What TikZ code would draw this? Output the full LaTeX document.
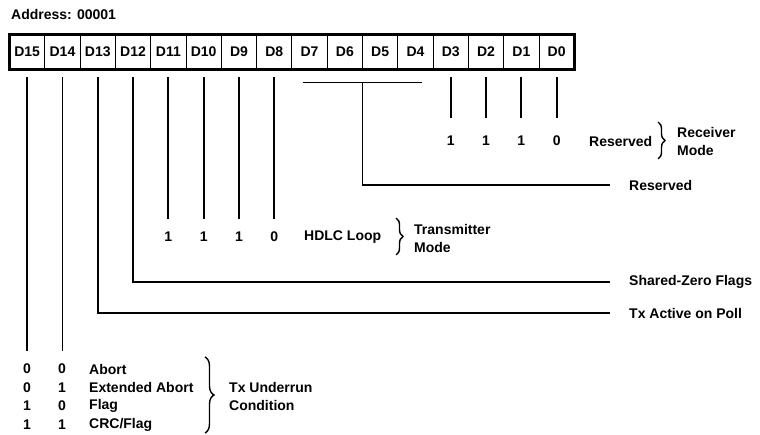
\documentclass[tikz,border=0pt]{standalone}
\usepackage{fontspec}
\setmainfont{Liberation Sans}
\usetikzlibrary{calc,decorations.pathreplacing}
\tikzset{
    cell/.style     = {rectangle, draw=black, line width=0.9pt, minimum width=35.3pt,
                       minimum height=35pt, inner sep=0pt, outer sep=0pt},
    regframe/.style = {draw=black, line width=2.4pt},
    tap/.style      = {draw=black, line width=1.8pt},
    txt/.style      = {font=\bfseries\fontsize{14}{18}\selectfont, inner sep=1pt},
    brc/.style      = {draw=black, line width=1.4pt, decorate, decoration={brace, amplitude=#1}},
    brc/.default    = 7pt
}
\begin{document}
\begin{tikzpicture}[x=1pt, y=-1pt, every node/.style={txt}]
    \useasboundingbox (0,0) rectangle (760,435);

    % --- Register ---
    \node[anchor=west] (addr) at (10,15) {Address: 00001};
    \foreach \b [count=\k from 0] in {15,14,...,0}
        \node[cell] (d\b) at ({27.15+35.3*\k}, 52) {D\b};
    \draw[regframe] (d15.north west) rectangle (d0.south east);

    % --- Right-hand labels ---
    \node[anchor=west] (rsvd)   at (628,185) {Reserved};
    \node[anchor=west] (shzero) at (628,282) {Shared-Zero Flags};
    \node[anchor=west] (txpoll) at (628,313) {Tx Active on Poll};

    % --- Receiver Mode (D3-D0) ---
    \node[anchor=west] (rxrsvd) at (588,141) {Reserved};
    \foreach \b/\v in {3/1,2/1,1/1,0/0}
        \node (rx\b) at (d\b |- rxrsvd) {\v};
    \draw[brc] (658,122) -- (658,159);
    \node[anchor=west, align=left] (rxmode) at (676,141) {Receiver\\Mode};

    % --- Transmitter Mode (D11-D8) ---
    \node[anchor=west] (hdlc) at (303,237) {HDLC Loop};
    \foreach \b/\v in {11/1,10/1,9/1,8/0}
        \node (tx\b) at (d\b |- hdlc) {\v};
    \draw[brc] (396,218) -- (396,255);
    \node[anchor=west, align=left] (txmode) at (413,238) {Transmitter\\Mode};

    % --- Tx Underrun Condition (D15-D14) ---
    \foreach \p/\q/\n [count=\r] in {0/0/Abort,0/1/Extended Abort,1/0/Flag,1/1/{CRC/Flag}} {
        \node (ua\r) at (27, {350.5+18.5*\r}) {\p};
        \node (ub\r) at (62, {350.5+18.5*\r}) {\q};
        \node[anchor=west] (un\r) at (88, {350.5+18.5*\r}) {\n};
    }
    \draw[brc=9pt] (205,357) -- (205,433);
    \node[anchor=west, align=left] (undr) at (228,396) {Tx Underrun\\Condition};

    % --- Bit taps ---
    \draw[tap] ([yshift=-8pt]d15.south) -- ($(d15.south |- ua1.north)+(0,-12)$);
    \draw[tap] ([yshift=-8pt]d14.south) -- ($(d14.south |- ub1.north)+(0,-12)$);
    \draw[tap] ([yshift=-8pt]d13.south) |- ($(txpoll.west)+(-18,0)$);
    \draw[tap] ([yshift=-8pt]d12.south) |- ($(shzero.west)+(-18,0)$);
    \foreach \b in {11,10,9,8}
        \draw[tap] ([yshift=-8pt]d\b.south) -- ($(tx\b.north)+(0,-12)$);

    % D7-D4 grouped into one tap
    \coordinate (grpl) at ($(d7.south)+(-7,13)$);
    \coordinate (grpr) at ($(d4.south)+(7,13)$);
    \draw[tap] (grpl) -- (grpr);
    \draw[tap] ($(grpl)!0.5!(grpr)$) |- ($(rsvd.west)+(-18,0)$);

    \foreach \b in {3,2,1,0}
        \draw[tap] ([yshift=-8pt]d\b.south) -- ($(rx\b.north)+(0,-17)$);
\end{tikzpicture}
\end{document}
